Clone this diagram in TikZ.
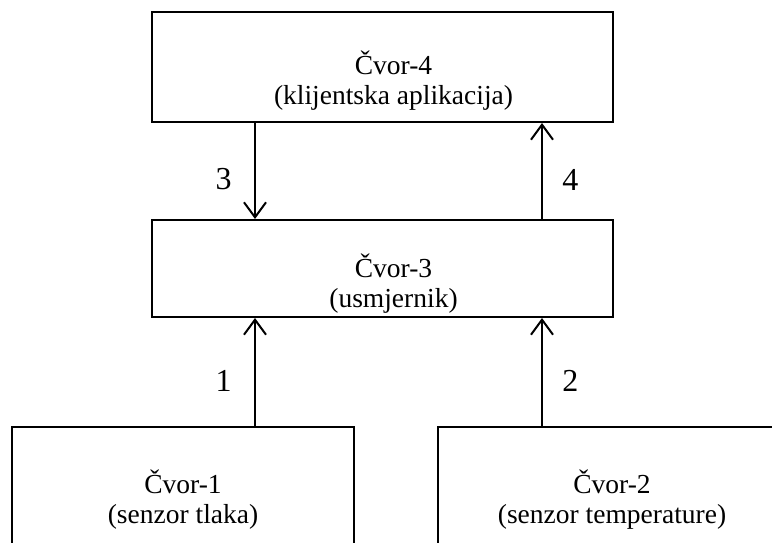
\documentclass[tikz,border=0pt]{standalone}
\usepackage{fontspec}
\setmainfont{Liberation Serif}
\usetikzlibrary{arrows.meta}
\begin{document}
\begin{tikzpicture}[x=1pt,y=-1pt,
        box/.style={draw,line width=2pt,inner sep=0pt},
        txt/.style={align=center,font=\fontsize{27.5}{30}\selectfont},
        num/.style={font=\fontsize{32}{36}\selectfont},
        arr/.style={line width=2pt,-{Straight Barb[length=15pt,width=22pt]}}]
        \useasboundingbox (0,0) rectangle (772,543);
        \clip (0,0) rectangle (772,543);
        % boxes
        \node[box,minimum width=461pt,minimum height=110pt] (n4) at (382.5,67) {};
        \node[box,minimum width=461pt,minimum height=97pt] (n3) at (382.5,268.5) {};
        \node[box,minimum width=342pt,minimum height=118pt] (n1) at (183,486) {};
        \node[box,minimum width=348pt,minimum height=118pt] (n2) at (612,486) {};
        
        \node[txt] (t4) at ([xshift=11pt,yshift=-14pt]n4.center) {Čvor-4\\(klijentska aplikacija)};
        \node[txt] (t3) at ([xshift=11pt,yshift=-15pt]n3.center) {Čvor-3\\(usmjernik)};
        \node[txt] (t1) at ([yshift=-14pt]n1.center) {Čvor-1\\(senzor tlaka)};
        \node[txt] (t2) at ([yshift=-14pt]n2.center) {Čvor-2\\(senzor temperature)};
        
        % arrows
        \draw[arr] ([xshift=-127.5pt]n4.south) -- ([xshift=-127.5pt]n3.north)
                node[num,midway,left=19pt,yshift=-8pt] (l3) {3};
        \draw[arr] ([xshift=159.5pt]n3.north) -- ([xshift=159.5pt]n4.south)
                node[num,midway,right=16pt,yshift=-9pt] (l4) {4};
        \draw[arr] ([xshift=72pt]n1.north) -- ([xshift=-127.5pt]n3.south)
                node[num,midway,left=19pt,yshift=-9pt] (l1) {1};
        \draw[arr] ([xshift=-70pt]n2.north) -- ([xshift=159.5pt]n3.south)
                node[num,midway,right=16pt,yshift=-9pt] (l2) {2};
\end{tikzpicture}
\end{document}
